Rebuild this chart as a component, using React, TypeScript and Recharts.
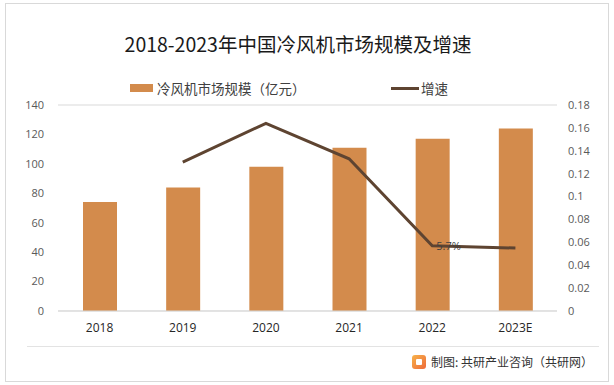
import { ComposedChart, Bar, Line, XAxis, YAxis, CartesianGrid, LabelList } from 'recharts';

const years = ['2018', '2019', '2020', '2021', '2022', '2023E'];
const marketSize = [74, 84, 98, 111, 117, 124];
const growth = [null, 0.13, 0.164, 0.133, 0.057, 0.055];
const leftTicks = [0, 20, 40, 60, 80, 100, 120, 140];
const rightTicks = [0, 0.02, 0.04, 0.06, 0.08, 0.1, 0.12, 0.14, 0.16, 0.18];

const data = years.map((year, i) => ({ year, size: marketSize[i], rate: growth[i] }));

const FONT = '"Open Sans", "Noto Sans CJK SC", sans-serif';
const CJK = '"Noto Sans CJK SC", sans-serif';
const BAR = '#D38B4C';
const LINE = '#5E4431';

function LegendRow() {
  return (
    <div style={{ position: 'absolute', left: 0, top: 79, width: 614, height: 20, fontFamily: CJK, fontSize: 13.5, color: '#404040' }}>
      <div style={{ position: 'absolute', left: 130, top: 5, width: 23, height: 8, background: BAR }} />
      <span style={{ position: 'absolute', left: 157, top: -1 }}>冷风机市场规模（亿元）</span>
      <div style={{ position: 'absolute', left: 391, top: 8, width: 28, height: 3, background: LINE }} />
      <span style={{ position: 'absolute', left: 421, top: -1 }}>增速</span>
    </div>
  );
}

const pctLabel = (props: any) => {
  const { x, y, index } = props;
  if (index !== 4) return null;
  return (
    <text x={x + 4} y={y + 4} fontSize={11} fill="#404040" fontFamily={FONT}>
      5.7%
    </text>
  );
};

export default function App() {
  return (
    <div style={{ position: 'absolute', left: 0, top: 0, width: 614, height: 385, background: '#fff' }}>
      <div style={{ position: 'absolute', left: 5, top: 3, width: 602, height: 377, border: '1px solid #d9d9d9' }} />
      <div
        style={{
          position: 'absolute',
          left: 0,
          width: 614,
          top: 29,
          textAlign: 'center',
          fontFamily: CJK,
          fontSize: 19.5,
          color: '#1a1a1a',
          paddingRight: 18,
          boxSizing: 'border-box',
        }}
      >
        2018-2023年中国冷风机市场规模及增速
      </div>
      <LegendRow />
      <ComposedChart
        width={614}
        height={385}
        data={data}
        margin={{ top: 105, right: 0, left: 0, bottom: 44 }}
        style={{ position: 'absolute', left: 0, top: 0 }}
      >
        <CartesianGrid vertical={false} stroke="#d9d9d9" />
        <XAxis
          dataKey="year"
          height={30}
          axisLine={{ stroke: '#d9d9d9' }}
          tickLine={false}
          tickMargin={6}
          tick={{ fontSize: 12, fill: '#262626', fontFamily: FONT }}
        />
        <YAxis
          yAxisId="left"
          width={58}
          domain={[0, 140]}
          ticks={leftTicks}
          axisLine={false}
          tickLine={false}
          tickMargin={8}
          tick={{ fontSize: 11, fill: '#595959', fontFamily: FONT }}
        />
        <YAxis
          yAxisId="right"
          orientation="right"
          width={57}
          domain={[0, 0.18]}
          ticks={rightTicks}
          axisLine={false}
          tickLine={false}
          tickMargin={5}
          tick={{ fontSize: 11, fill: '#595959', fontFamily: FONT, textAnchor: 'start' }}
        />
        <Bar yAxisId="left" dataKey="size" fill={BAR} barSize={34} isAnimationActive={false} />
        <Line
          yAxisId="right"
          dataKey="rate"
          stroke={LINE}
          strokeWidth={3}
          dot={false}
          activeDot={false}
          connectNulls={false}
          isAnimationActive={false}
        >
          <LabelList dataKey="rate" content={pctLabel} />
        </Line>
      </ComposedChart>
      <div style={{ position: 'absolute', left: 27, top: 346, width: 572, height: 1, background: '#e3e3e3' }} />
      <div style={{ position: 'absolute', left: 412, top: 355, width: 14, height: 14, borderRadius: 3, background: 'linear-gradient(135deg, #f7b34a, #ee6a3a)' }}>
        <div style={{ position: 'absolute', left: 4, top: 4, width: 6, height: 6, background: '#fff', borderRadius: 1 }} />
      </div>
      <div style={{ position: 'absolute', left: 431, top: 353, fontFamily: CJK, fontSize: 12, color: '#333' }}>
        制图: 共研产业咨询（共研网）
      </div>
    </div>
  );
}
